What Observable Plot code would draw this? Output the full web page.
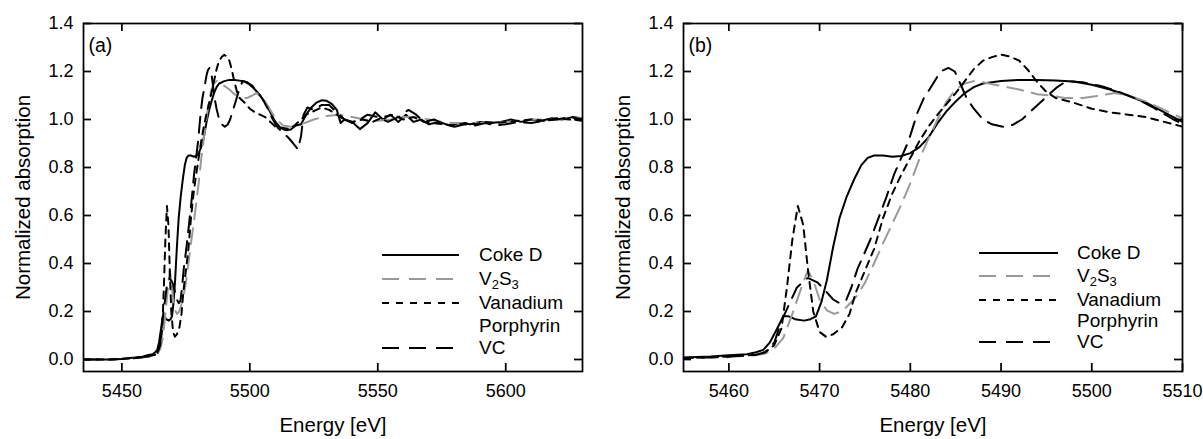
<!DOCTYPE html>
<html><head><meta charset="utf-8">
<script src="https://cdn.jsdelivr.net/npm/d3@7"></script>
<script src="https://cdn.jsdelivr.net/npm/@observablehq/plot@0.6"></script>
<style>
body{margin:0;background:#fff;font-family:"Liberation Sans",Arial,sans-serif;}
#wrap{position:relative;width:1203px;height:439px;overflow:hidden;background:#fff;}
.panel{position:absolute;top:0;}
#legend{position:absolute;left:0;top:0;}
</style></head><body><div id="wrap"></div>
<script>
// ---------- data ----------
const cokeE = [5435,5440,5445,5450,5455,5458,5460,5462,5463,5463.8,5464.5,5465.2,5466,5466.6,5467.3,5468.3,5469,5469.6,5470.2,5470.8,5471.5,5472.2,5473,5473.8,5474.6,5475.3,5476,5477,5478,5479,5480,5481,5482,5483,5484,5485,5486,5487,5488,5489,5490,5492,5494,5496,5498,5500,5502,5504,5506,5508,5510,5512,5514,5516,5518,5520,5522,5524,5526,5528,5530,5532,5534,5535.5,5537,5540,5543,5546,5549,5552,5555,5558,5561,5564,5567,5570,5574,5578,5582,5586,5590,5594,5598,5602,5606,5610,5614,5618,5622,5626,5630];
const cokeA = [0,0,0,0.003,0.008,0.012,0.018,0.022,0.03,0.04,0.07,0.12,0.18,0.18,0.168,0.162,0.168,0.18,0.24,0.33,0.47,0.59,0.68,0.75,0.81,0.84,0.85,0.85,0.845,0.848,0.86,0.885,0.925,0.985,1.035,1.075,1.11,1.135,1.15,1.155,1.16,1.165,1.165,1.162,1.158,1.145,1.125,1.1,1.07,1.03,0.99,0.965,0.955,0.958,0.975,0.98,1.02,1.05,1.07,1.08,1.078,1.065,1.04,0.985,1.0,0.99,0.96,0.985,1.03,1.0,1.02,0.99,1.02,0.99,1.0,0.98,0.99,0.975,0.985,0.98,0.99,0.985,0.99,1.0,0.99,1.0,0.995,1.005,1.0,1.01,1.005];

const v2s3E = [5435,5445,5450,5455,5460,5463,5464,5465,5466,5467,5468,5468.7,5469.3,5470,5470.8,5471.6,5472.4,5473,5474,5475,5476,5477,5478,5479,5480,5481,5482,5483,5484,5485,5486,5487,5488,5490,5492,5494,5495.5,5497,5499,5501,5502.5,5504,5506,5508,5510,5513,5516,5520,5525,5530,5535,5540,5545,5550,5555,5560,5565,5570,5575,5580,5585,5590,5595,5600,5605,5610,5615,5620,5625,5630];
const v2s3A = [0,0,0.002,0.005,0.01,0.018,0.025,0.045,0.09,0.19,0.3,0.37,0.33,0.25,0.205,0.19,0.2,0.22,0.26,0.32,0.4,0.485,0.565,0.645,0.735,0.835,0.92,1.0,1.075,1.125,1.15,1.16,1.155,1.14,1.125,1.105,1.1,1.09,1.09,1.1,1.11,1.1,1.075,1.04,1.005,0.975,0.97,0.98,1.0,1.015,1.02,1.01,1.0,0.995,1.0,1.01,1.01,1.0,0.99,0.985,0.985,0.985,0.99,0.99,0.995,1.0,1.0,1.0,1.005,1.005];

const vpE = [5435,5445,5450,5455,5460,5463,5464,5465,5465.8,5466.4,5467,5467.6,5468.2,5468.7,5469.3,5470,5470.7,5471.5,5472.5,5473.3,5474,5475,5476,5477,5478,5479,5480,5481,5482,5483,5484,5485,5486,5487,5488,5489,5490,5491,5492,5493,5494,5495,5496,5498,5500,5502,5504,5506,5508,5510,5513,5516,5519,5522,5525,5528,5531,5534,5537,5540,5544,5548,5552,5556,5560,5564,5568,5572,5576,5580,5584,5588,5592,5596,5600,5605,5610,5615,5620,5625,5630];
const vpA = [0,0,0.002,0.006,0.012,0.02,0.03,0.06,0.13,0.3,0.5,0.64,0.56,0.38,0.2,0.115,0.095,0.105,0.135,0.19,0.28,0.37,0.46,0.59,0.69,0.77,0.84,0.91,0.97,1.02,1.065,1.11,1.16,1.21,1.245,1.26,1.27,1.262,1.245,1.205,1.155,1.115,1.09,1.07,1.045,1.03,1.02,1.01,0.99,0.97,0.965,0.96,0.99,1.02,1.035,1.05,1.04,1.02,1.0,0.99,1.0,0.99,1.01,1.02,1.0,1.01,0.99,0.985,0.98,0.975,0.985,0.98,0.99,0.985,0.99,0.995,1.0,0.995,1.005,1.0,0.995];

const vcE = [5435,5445,5450,5455,5460,5463,5464,5465,5465.8,5466.4,5467.5,5468.7,5469.8,5470.8,5471.5,5472.2,5472.9,5473.5,5474.2,5474.8,5475.6,5476.5,5477.3,5478.2,5479,5479.8,5480.8,5481.5,5482.2,5483,5483.6,5484.2,5484.9,5485.5,5486.2,5487,5488,5489,5490.2,5491.3,5492.3,5493.3,5494.3,5495.3,5496.2,5497.2,5499,5501,5503,5505,5507,5509,5511,5513,5515,5517,5518.8,5520,5521,5522.5,5525,5528,5531,5534,5537,5540,5543,5546,5550,5554,5558,5562,5565,5568,5572,5576,5580,5584,5588,5592,5596,5600,5605,5610,5615,5620,5625,5630];
const vcA = [0,0,0.002,0.006,0.012,0.02,0.03,0.07,0.16,0.21,0.3,0.34,0.32,0.28,0.25,0.235,0.245,0.3,0.38,0.43,0.5,0.59,0.67,0.77,0.84,0.91,1.03,1.09,1.13,1.18,1.205,1.215,1.2,1.15,1.09,1.045,1.0,0.98,0.97,0.978,1.0,1.035,1.07,1.105,1.135,1.16,1.155,1.14,1.115,1.085,1.045,1.0,0.965,0.945,0.925,0.9,0.875,0.93,1.02,1.05,1.04,1.06,1.06,1.03,1.0,0.985,1.0,1.02,1.01,0.99,1.01,1.04,1.02,0.99,1.0,0.98,0.97,0.98,0.975,0.985,0.975,0.98,0.99,0.985,0.995,1.0,1.01,1.0];

const seriesNames = ["Coke D", "V2S3", "Vanadium Porphyrin", "VC"];
const yTicks = [0, 0.2, 0.4, 0.6, 0.8, 1.0, 1.2, 1.4];
const xTicksA = [5450, 5500, 5550, 5600];
const xTicksB = [5460, 5470, 5480, 5490, 5500, 5510];

// ---------- styles ----------
const FONT = "Liberation Sans, Arial, Helvetica, sans-serif";
const styles = [
  {stroke: "#000", dash: null},
  {stroke: "#999", dash: "16,9"},
  {stroke: "#000", dash: "7,6"},
  {stroke: "#000", dash: "16,9"}
];
const seriesData = [[cokeE, cokeA], [v2s3E, v2s3A], [vpE, vpA], [vcE, vcA]]
  .map(([E, A]) => E.map((e, i) => ({x: e, y: A[i]})));

const H = 439, MT = 23, MB = 68, ML = 83, TICK = 8;

function makePanel({xDomain, xTicks, tag, width, marginRight}) {
  const plotH = H - MT - MB, plotW = width - ML - marginRight;
  const marks = [];
  seriesData.forEach((d, i) => {
    marks.push(Plot.line(d, {x: "x", y: "y", stroke: styles[i].stroke, strokeWidth: 2,
      strokeDasharray: styles[i].dash, clip: true}));
  });
  marks.push(
    Plot.axisX(xTicks, {anchor: "bottom", tickSize: 0, tickPadding: 13, fontSize: 18, tickFormat: d3.format("d"), label: null}),
    Plot.axisY(yTicks, {anchor: "left", tickSize: 0, tickPadding: 10, fontSize: 18, tickFormat: d3.format(".1f"), label: null}),
    // inward ticks on all four sides
    Plot.tickX(xTicks, {x: d => d, insetTop: plotH - TICK, stroke: "#000", strokeWidth: 1.75}),
    Plot.tickX(xTicks, {x: d => d, insetBottom: plotH - TICK, stroke: "#000", strokeWidth: 1.75}),
    Plot.tickY(yTicks, {y: d => d, insetRight: plotW - TICK, stroke: "#000", strokeWidth: 1.75}),
    Plot.tickY(yTicks, {y: d => d, insetLeft: plotW - TICK, stroke: "#000", strokeWidth: 1.75}),
    Plot.frame({stroke: "#000", strokeWidth: 1.75}),
    Plot.text(["Energy [eV]"], {text: d => d, frameAnchor: "bottom", dy: 54, fontSize: 20.5, textAnchor: "middle", lineAnchor: "middle"}),
    Plot.text(["Normalized absorption"], {text: d => d, frameAnchor: "left", dx: -60, rotate: -90, fontSize: 20.5, textAnchor: "middle", lineAnchor: "middle"}),
    Plot.text([tag], {text: d => d, frameAnchor: "top-left", dx: 5, dy: 22, textAnchor: "start", lineAnchor: "middle", fontSize: 19.5})
  );
  return Plot.plot({
    width, height: H,
    marginLeft: ML, marginRight, marginTop: MT, marginBottom: MB,
    x: {domain: xDomain},
    y: {domain: [-0.05, 1.4]},
    style: {fontFamily: FONT, fontSize: "18px", color: "#000", background: "#fff", overflow: "visible"},
    marks
  });
}

const wrap = document.getElementById("wrap");
const pa = makePanel({xDomain: [5435, 5630], xTicks: xTicksA, tag: "(a)", width: 600, marginRight: 18});
pa.classList.add("panel"); pa.style.left = "0px";
const pb = makePanel({xDomain: [5455, 5510], xTicks: xTicksB, tag: "(b)", width: 603, marginRight: 21});
pb.classList.add("panel"); pb.style.left = "600px";
wrap.appendChild(pa); wrap.appendChild(pb);

// ---------- legends ----------
const svg = d3.select(wrap).append("svg").attr("id", "legend")
  .attr("width", 1203).attr("height", 439)
  .style("font-family", FONT).style("font-size", "19px");
const legends = [
  {x0: 382, x1: 459, tx: 479, rows: [255, 279, 303, 348], porph: 326},
  {x0: 979, x1: 1058, tx: 1077, rows: [253, 276, 300, 342], porph: 321}
];
legends.forEach(L => {
  seriesNames.forEach((name, i) => {
    const y = L.rows[i];
    svg.append("line").attr("x1", L.x0).attr("x2", L.x1).attr("y1", y).attr("y2", y)
      .attr("stroke", styles[i].stroke).attr("stroke-width", 2)
      .attr("stroke-dasharray", i === 1 || i === 3 ? "17,10" : i === 2 ? "7,7" : null);
    if (i === 1) {
      const t = svg.append("text").attr("x", L.tx).attr("y", y + 6);
      t.append("tspan").text("V");
      t.append("tspan").attr("font-size", 13).attr("dy", 4).text("2");
      t.append("tspan").attr("dy", -4).text("S");
      t.append("tspan").attr("font-size", 13).attr("dy", 4).text("3");
    } else if (i === 2) {
      svg.append("text").attr("x", L.tx).attr("y", y + 6).text("Vanadium");
      svg.append("text").attr("x", L.tx).attr("y", L.porph + 6).text("Porphyrin");
    } else {
      svg.append("text").attr("x", L.tx).attr("y", y + 6).text(name);
    }
  });
});
</script>
</body></html>
